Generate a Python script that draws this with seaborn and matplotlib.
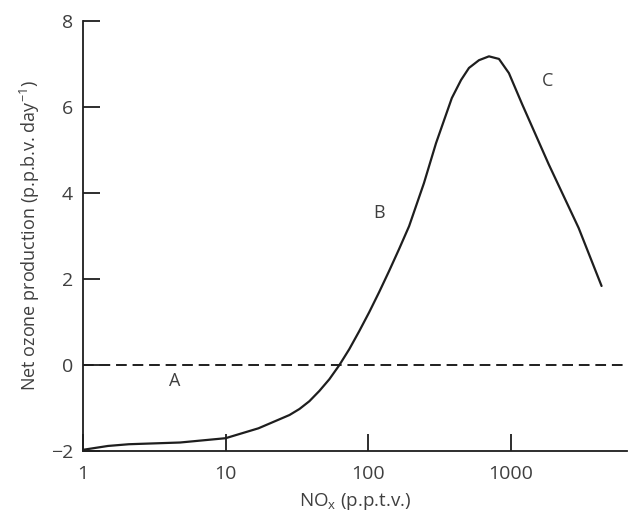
import matplotlib
matplotlib.use("Agg")
import matplotlib.pyplot as plt
import seaborn as sns
import pandas as pd

nox = [1, 1.5, 2.1, 4.8, 10, 17, 23.9, 28.1, 33.0, 38.7, 45.5, 53.4, 62.8, 73.7, 86.6, 101.7,
       119.5, 140.3, 164.8, 193.6, 246, 299, 386, 448, 509, 598, 703, 826, 970, 1200, 1844,
       2989, 4329]
ozone = [-1.97, -1.88, -1.84, -1.8, -1.7, -1.47, -1.26, -1.16, -1.02, -0.84, -0.60, -0.33, 0.0,
         0.37, 0.79, 1.23, 1.70, 2.19, 2.70, 3.23, 4.23, 5.16, 6.21, 6.63, 6.91, 7.09, 7.18,
         7.12, 6.79, 6.07, 4.67, 3.19, 1.84]

x_ticks = [1, 10, 100, 1000]
x_ticklabels = ["1", "10", "100", "1000"]
y_ticks = [-2, 0, 2, 4, 6, 8]
y_ticklabels = ["\u22122", "0", "2", "4", "6", "8"]

regions = ["A", "B", "C"]
region_x = [4.4, 120, 1800]
region_y = [-0.37, 3.53, 6.6]

sns.set_style("ticks")
plt.rcParams["font.family"] = ["Open Sans", "DejaVu Sans"]

text_color = "#3f3f3f"
fig = plt.figure(figsize=(6.28, 5.27), dpi=100)
ax = fig.add_axes([0.132, 0.144, 0.866, 0.816])

df = pd.DataFrame({"nox": nox, "ozone": ozone})
sns.lineplot(data=df, x="nox", y="ozone", ax=ax, color="#1e1e1e", linewidth=1.6, sort=False)
ax.axhline(0, color="#1e1e1e", linewidth=1.4, linestyle=(0, (5.5, 3)))

ax.set_xscale("log")
ax.set_xlim(1, 6500)
ax.set_ylim(-2, 8)
ax.set_xticks(x_ticks)
ax.set_xticklabels(x_ticklabels)
ax.minorticks_off()
ax.set_yticks(y_ticks)
ax.set_yticklabels(y_ticklabels)

for s in ["top", "right"]:
    ax.spines[s].set_visible(False)
for s in ["left", "bottom"]:
    ax.spines[s].set_color("#1e1e1e")
    ax.spines[s].set_linewidth(1.3)

ax.tick_params(axis="both", direction="in", length=12, width=1.3, color="#1e1e1e",
               labelsize=14, labelcolor=text_color)
ax.tick_params(axis="y", pad=7)
ax.tick_params(axis="x", pad=10)

ax.set_xlabel("NO$_\\mathregular{x}$ (p.p.t.v.)", fontsize=13.5, color=text_color, labelpad=6)
ax.set_ylabel("Net ozone production (p.p.b.v. day$^{\\mathregular{-1}}$)", fontsize=13, color=text_color, labelpad=6)

for lab, xv, yv in zip(regions, region_x, region_y):
    ax.text(xv, yv, lab, fontsize=13, color=text_color, ha="center", va="center")

fig.savefig("out.png", dpi=100)
